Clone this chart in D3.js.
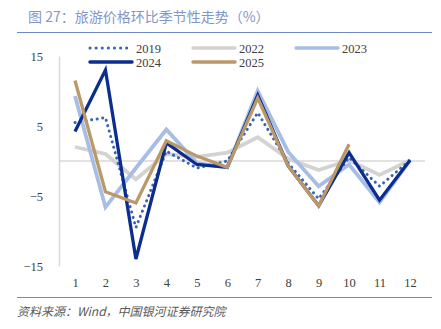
<!DOCTYPE html>
<html><head><meta charset="utf-8">
<script src="https://cdn.jsdelivr.net/npm/d3@7"></script>
<style>body{margin:0;background:#fff}svg{display:block}</style>
</head><body><svg id="c" width="441" height="329"></svg>
<script>
const months = [1,2,3,4,5,6,7,8,9,10,11,12];
const yTicks = [15,5,-5,-15];
const s2019 = [5.5,6.2,-9.5,1.4,-1.0,0.0,6.9,-0.3,-5.4,0.5,-3.6,0.1];
const s2022 = [2.0,1.0,-2.6,1.0,0.6,1.2,3.4,0.3,-1.3,0.1,-2.0,0.1];
const s2023 = [9.3,-6.6,-1.0,4.5,-0.3,-0.9,10.0,1.3,-3.6,-0.5,-5.9,0.1];
const s2024 = [4.2,13.0,-14.0,2.6,-0.5,-0.9,9.4,-0.7,-6.4,1.2,-5.6,0.1];
const s2025 = [11.5,-4.4,-6.0,2.9,0.7,-0.9,9.0,-0.7,-6.4,2.4];
const seriesNames = ["2019","2022","2023","2024","2025"];

const series = [
  {name:"2022", data:s2022, color:"#d3d3d3", width:3.8},
  {name:"2023", data:s2023, color:"#a8bde6", width:3.8},
  {name:"2019", data:s2019, color:"#3a63b3", width:3, dotted:true},
  {name:"2024", data:s2024, color:"#0b2d8e", width:3.3},
  {name:"2025", data:s2025, color:"#bb9868", width:3.3}
];

const svg = d3.select("#c");
const x = d3.scaleLinear().domain([1,12]).range([75,410]);
const y = d3.scaleLinear().domain([-15,15]).range([266,56]);

// title
svg.append("text").attr("x",28).attr("y",22)
  .attr("font-family","Noto Sans CJK SC, sans-serif").attr("font-size",14)
  .attr("fill","#8396c8").text("图 27：旅游价格环比季节性走势（%）");
svg.append("line").attr("x1",17).attr("x2",432).attr("y1",32.5).attr("y2",32.5)
  .attr("stroke","#7088c3").attr("stroke-width",1.2);
svg.append("line").attr("x1",17).attr("x2",432).attr("y1",297.5).attr("y2",297.5)
  .attr("stroke","#7088c3").attr("stroke-width",1.2);
svg.append("text").attr("x",17).attr("y",316)
  .attr("font-family","Noto Sans CJK SC, sans-serif").attr("font-size",12)
  .attr("font-style","italic").attr("fill","#595959").text("资料来源：Wind，中国银河证券研究院");

// axes
const yAxis = d3.axisLeft(y).tickValues(yTicks).tickSize(0).tickPadding(16);
const gy = svg.append("g").attr("transform","translate(59,0)").call(yAxis);
gy.select(".domain").attr("stroke","#d9d9d9").attr("stroke-width",1.5);
gy.selectAll("text").attr("font-family","Liberation Serif, serif").attr("font-size",12.5).attr("fill","#404040");

svg.append("line").attr("x1",59).attr("x2",425).attr("y1",y(0)).attr("y2",y(0))
  .attr("stroke","#d9d9d9").attr("stroke-width",1.5);

const xAxis = d3.axisBottom(x).tickValues(months).tickSize(0).tickFormat(d3.format("d"));
const gx = svg.append("g").attr("transform","translate(0,275)").call(xAxis);
gx.select(".domain").remove();
gx.selectAll("text").attr("font-family","Liberation Serif, serif").attr("font-size",12.5).attr("fill","#404040");

const line = d3.line().x((d,i)=>x(months[i])).y(d=>y(d));
series.forEach(s=>{
  const p = svg.append("path").attr("d",line(s.data)).attr("fill","none")
    .attr("stroke",s.color).attr("stroke-width",s.width)
    .attr("stroke-linejoin","miter");
  if(s.dotted){p.attr("stroke-dasharray","0.1 5.5").attr("stroke-linecap","round");}
});

// legend
const legPos = {"2019":[90,48],"2022":[193,48],"2023":[296,48],"2024":[90,62],"2025":[193,62]};
seriesNames.forEach(n=>{
  const s = series.find(d=>d.name===n);
  const [lx,ly] = legPos[n];
  const l = svg.append("line").attr("x1",lx).attr("x2",lx+42).attr("y1",ly).attr("y2",ly)
    .attr("stroke",s.color).attr("stroke-width",s.dotted?3:3.5);
  if(s.dotted){l.attr("stroke-dasharray","0.1 6").attr("stroke-linecap","round");}
  else l.attr("stroke-linecap","round");
  svg.append("text").attr("x",lx+46).attr("y",ly+4.5)
    .attr("font-family","Liberation Serif, serif").attr("font-size",12.5).attr("fill","#404040").text(n);
});
</script></body></html>
